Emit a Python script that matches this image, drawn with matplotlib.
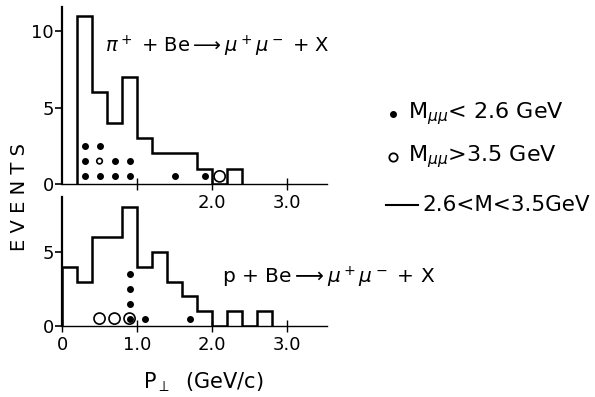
import matplotlib
matplotlib.use("Agg")
import matplotlib.pyplot as plt
import numpy as np

plt.rcParams['font.family'] = ['DejaVu Sans']
plt.rcParams['mathtext.fontset'] = 'dejavusans'

# ---- data ----
top_edges = [0.2, 0.4, 0.6, 0.8, 1.0, 1.2, 1.4, 1.6, 1.8, 2.0, 2.2, 2.4]
top_counts = [11, 6, 4, 7, 3, 2, 2, 2, 1, 0, 1]

bot_edges = [0.0, 0.2, 0.4, 0.6, 0.8, 1.0, 1.2, 1.4, 1.6, 1.8, 2.0, 2.2, 2.4, 2.6, 2.8]
bot_counts = [4, 3, 6, 6, 8, 4, 5, 3, 2, 1, 0, 1, 0, 1]

top_low_x = [0.3, 0.3, 0.3, 0.5, 0.5, 0.7, 0.7, 0.9, 0.9, 1.5, 1.9]
top_low_y = [0.5, 1.5, 2.5, 0.5, 2.5, 0.5, 1.5, 0.5, 1.5, 0.5, 0.5]
top_high_x = [0.5, 2.1]
top_high_y = [1.5, 0.5]
top_high_s = [4, 8]

bot_low_x = [0.9, 0.9, 0.9, 0.9, 1.1, 1.7]
bot_low_y = [0.5, 1.5, 2.5, 3.5, 0.5, 0.5]
bot_high_x = [0.5, 0.7, 0.9]
bot_high_y = [0.5, 0.5, 0.5]

fig = plt.figure(figsize=(5.95, 3.97), dpi=100)
W, H = 595.0, 397.0
x0, x1 = 62, 327
ax1 = fig.add_axes([x0 / W, 1 - 184 / H, (x1 - x0) / W, (184 - 7) / H])
ax2 = fig.add_axes([x0 / W, 1 - 326 / H, (x1 - x0) / W, (326 - 197) / H])

for ax in (ax1, ax2):
    for s in ('top', 'right'):
        ax.spines[s].set_visible(False)
    ax.spines['left'].set_linewidth(1.6)
    ax.spines['bottom'].set_linewidth(1.0)
    ax.set_xlim(0, 3.53)
    ax.tick_params(axis='y', direction='out', length=5, width=1.2, labelsize=13, pad=1)
    ax.tick_params(axis='x', direction='inout', length=8, width=1.0, labelsize=13, pad=3)
    ax.patch.set_alpha(0)

ax1.set_ylim(0, 11.6)
ax2.set_ylim(0, 8.7)

ax1.stairs(top_counts, top_edges, baseline=0, fill=False, color='black', lw=1.8)
ax2.stairs(bot_counts, bot_edges, baseline=0, fill=False, color='black', lw=1.8)

ax1.plot(top_low_x, top_low_y, 'o', color='black', ms=4, mec='black', ls='none', clip_on=False)
ax1.scatter(top_high_x, top_high_y, s=np.array(top_high_s) ** 2, facecolors='none',
            edgecolors='black', linewidths=1.2, clip_on=False, zorder=3)
ax2.scatter(bot_high_x, bot_high_y, s=64, facecolors='none', edgecolors='black',
            linewidths=1.2, clip_on=False, zorder=3)
ax2.plot(bot_low_x, bot_low_y, 'o', color='black', ms=4, ls='none', clip_on=False)

ax1.set_yticks([0, 5, 10])
ax1.set_yticklabels(['0', '5', '10'])
ax1.set_xticks([1, 2, 3])
ax1.set_xticklabels(['', '2.0', '3.0'])
ax2.set_yticks([0, 5])
ax2.set_yticklabels(['0', '5'])
ax2.set_xticks([0, 1, 2, 3])
ax2.set_xticklabels(['0', '1.0', '2.0', '3.0'])

ax1.text(0.57, 9.0, r"$\pi^+$ + Be$\longrightarrow\mu^+\mu^-$ + X", fontsize=14, ha='left', va='center')
ax2.text(2.13, 3.3, r"p + Be$\longrightarrow\mu^+\mu^-$ + X", fontsize=14.5, ha='left', va='center')

fig.text(20 / W, 1 - 197 / H, "E V E N T S", rotation=90, fontsize=14, ha='center', va='center')
fig.text(203 / W, 1 - 382 / H, r"P$_\perp$  (GeV/c)", fontsize=15, ha='center', va='center')

# legend
fig.lines.append(plt.Line2D([393 / W], [1 - 114 / H], marker='o', ms=4, color='black',
                            ls='none', transform=fig.transFigure))
fig.lines.append(plt.Line2D([393 / W], [1 - 157 / H], marker='o', ms=6, mfc='none',
                            mec='black', mew=1.3, ls='none', transform=fig.transFigure))
fig.lines.append(plt.Line2D([386 / W, 418 / W], [1 - 205 / H, 1 - 205 / H], color='black',
                            lw=1.5, transform=fig.transFigure))
fig.text(408 / W, 1 - 114 / H, r"M$_{\mu\mu}$< 2.6 GeV", fontsize=16, ha='left', va='center')
fig.text(408 / W, 1 - 157 / H, r"M$_{\mu\mu}$>3.5 GeV", fontsize=16, ha='left', va='center')
fig.text(590 / W, 1 - 205 / H, "2.6<M<3.5GeV", fontsize=15.5, ha='right', va='center')

fig.savefig("out.png", dpi=100)
